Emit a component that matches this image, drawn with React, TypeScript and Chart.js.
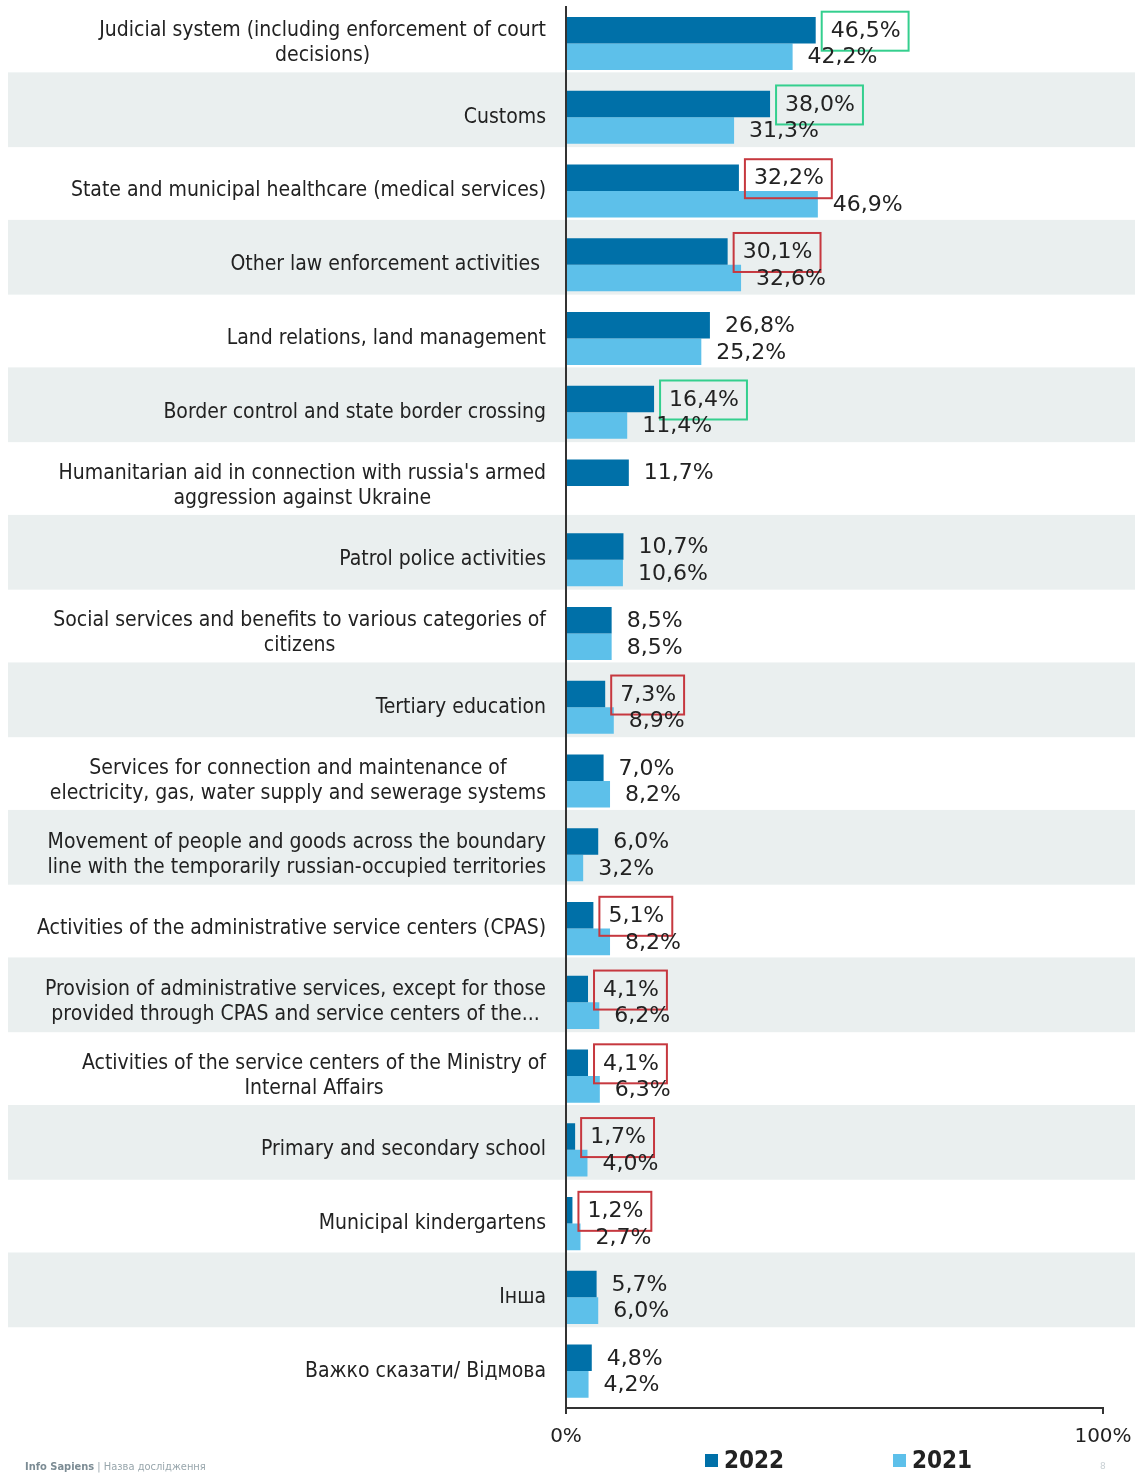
import React, { useEffect, useRef } from "react";
import { Chart, registerables } from "chart.js";

Chart.register(...registerables);

const categories: string[][] = [
  ["Judicial system (including enforcement of court", "decisions)"],
  ["Customs"],
  ["State and municipal healthcare (medical services)"],
  ["Other law enforcement activities "],
  ["Land relations, land management"],
  ["Border control and state border crossing"],
  ["Humanitarian aid in connection with russia's armed", "aggression against Ukraine"],
  ["Patrol police activities"],
  ["Social services and benefits to various categories of", "citizens"],
  ["Tertiary education"],
  ["Services for connection and maintenance of", "electricity, gas, water supply and sewerage systems"],
  ["Movement of people and goods across the boundary", "line with the temporarily russian-occupied territories"],
  ["Activities of the administrative service centers (CPAS)"],
  ["Provision of administrative services, except for those", "provided through CPAS and service centers of the..."],
  ["Activities of the service centers of the Ministry of", "Internal Affairs"],
  ["Primary and secondary school"],
  ["Municipal kindergartens"],
  ["Інша"],
  ["Важко сказати/ Відмова"],
];

const values2022: number[] = [46.5, 38.0, 32.2, 30.1, 26.8, 16.4, 11.7, 10.7, 8.5, 7.3, 7.0, 6.0, 5.1, 4.1, 4.1, 1.7, 1.2, 5.7, 4.8];
const values2021: (number | null)[] = [42.2, 31.3, 46.9, 32.6, 25.2, 11.4, null, 10.6, 8.5, 8.9, 8.2, 3.2, 8.2, 6.2, 6.3, 4.0, 2.7, 6.0, 4.2];

// highlight frames around 2022 values: "up" = green, "down" = red
const highlight2022: (string | null)[] = ["up", "up", "down", "down", null, "up", null, null, null, "down", null, null, "down", "down", "down", "down", "down", null, null];

const seriesLabels = ["2022", "2021"];
const xTickValues = [0, 100];

const COLOR_2022 = "#0070A8";
const COLOR_2021 = "#5DC0EA";
const BAND = "#EAEFEF";
const TEXT = "#222222";
const GREEN = "#34CF8E";
const RED = "#C6383F";

const fmt = (v: number) => v.toFixed(1).replace(".", ",") + "%";

const bandsPlugin = {
  id: "bands",
  beforeDraw(chart: any) {
    const ctx = chart.ctx;
    const y = chart.scales.y;
    const step = y.getPixelForValue(1) - y.getPixelForValue(0);
    ctx.save();
    ctx.fillStyle = "#ffffff";
    ctx.fillRect(0, 0, chart.width, chart.height);
    ctx.fillStyle = BAND;
    categories.forEach((_, i) => {
      if (i % 2 === 1) {
        const c = y.getPixelForValue(i);
        ctx.fillRect(8, c - step / 2 - 8, 1127, step + 1);
      }
    });
    ctx.restore();
  },
};

const labelsPlugin = {
  id: "customLabels",
  afterDatasetsDraw(chart: any) {
    const ctx = chart.ctx;
    ctx.save();
    ctx.font = "22px 'DejaVu Sans'";
    ctx.textBaseline = "middle";
    ctx.textAlign = "left";
    chart.data.datasets.forEach((ds: any, di: number) => {
      const meta = chart.getDatasetMeta(di);
      meta.data.forEach((bar: any, i: number) => {
        const v = ds.data[i];
        if (v === null || v === undefined) return;
        const text = fmt(v);
        const tx = bar.x + 15;
        const ty = bar.y + 1;
        ctx.fillStyle = TEXT;
        ctx.fillText(text, tx, ty);
        if (di === 0 && highlight2022[i]) {
          const w = ctx.measureText(text).width;
          ctx.strokeStyle = highlight2022[i] === "up" ? GREEN : RED;
          ctx.lineWidth = 2;
          ctx.strokeRect(tx - 9, ty - 19.5, w + 17, 39);
        }
      });
    });
    ctx.restore();
  },
  afterDraw(chart: any) {
    const ctx = chart.ctx;
    const y = chart.scales.y;
    ctx.save();
    // category labels: block right-aligned, lines centered within block
    ctx.font = "21px 'DejaVu Sans Condensed'";
    ctx.fillStyle = TEXT;
    ctx.textBaseline = "middle";
    ctx.textAlign = "center";
    const right = 546;
    const lh = 25;
    categories.forEach((lines, i) => {
      const c = y.getPixelForValue(i);
      const bw = Math.max(...lines.map((l) => ctx.measureText(l).width));
      const cx = right - bw / 2;
      const y0 = c - ((lines.length - 1) * lh) / 2;
      lines.forEach((l, k) => ctx.fillText(l, cx, y0 + k * lh));
    });

    // legend
    const legendX = [705, 893];
    const legendY = 1461;
    ctx.textAlign = "left";
    ctx.font = "bold 24px 'DejaVu Sans Condensed'";
    chart.data.datasets.forEach((ds: any, di: number) => {
      ctx.fillStyle = ds.backgroundColor;
      ctx.fillRect(legendX[di], legendY - 7, 13, 13);
      ctx.fillStyle = TEXT;
      ctx.fillText(ds.label, legendX[di] + 19, legendY + 1);
    });

    // footer
    ctx.font = "bold 11px 'DejaVu Sans Condensed'";
    ctx.fillStyle = "#7C8C94";
    ctx.fillText("Info Sapiens", 25, 1467);
    const w1 = ctx.measureText("Info Sapiens").width;
    ctx.font = "11px 'DejaVu Sans Condensed'";
    ctx.fillStyle = "#98A6AC";
    ctx.fillText(" | Назва дослідження", 25 + w1, 1467);
    ctx.font = "9px 'DejaVu Sans'";
    ctx.fillStyle = "#C8D0D4";
    ctx.fillText("8", 1100, 1467);
    ctx.restore();
  },
};

export default function App() {
  const ref = useRef<HTMLCanvasElement | null>(null);

  useEffect(() => {
    document.body.style.margin = "0";
    const canvas = ref.current;
    if (!canvas) return;
    const chart = new Chart(canvas, {
      type: "bar",
      data: {
        labels: categories.map((c) => c.join(" ")),
        datasets: [
          {
            label: seriesLabels[0],
            data: values2022,
            backgroundColor: COLOR_2022,
            categoryPercentage: 0.72,
            barPercentage: 1.0,
          },
          {
            label: seriesLabels[1],
            data: values2021 as any,
            backgroundColor: COLOR_2021,
            categoryPercentage: 0.72,
            barPercentage: 1.0,
          },
        ],
      },
      options: {
        indexAxis: "y",
        responsive: false,
        animation: false,
        devicePixelRatio: 1,
        layout: { padding: { left: 0, right: 36, top: 6.6, bottom: 0 } },
        plugins: {
          legend: { display: false },
          tooltip: { enabled: false },
        },
        scales: {
          x: {
            type: "linear",
            position: "bottom",
            min: 0,
            max: 100,
            afterBuildTicks: (s: any) => {
              s.ticks = xTickValues.map((v) => ({ value: v }));
            },
            afterFit: (s: any) => {
              s.height = 66;
              s.paddingLeft = 0;
              s.paddingRight = 0;
            },
            grid: {
              drawOnChartArea: false,
              drawTicks: true,
              tickLength: 6,
              color: "#333333",
              lineWidth: 2,
            },
            border: { display: true, color: "#333333", width: 2 },
            ticks: {
              padding: 11,
              color: TEXT,
              font: { family: "'DejaVu Sans'", size: 20 },
              callback: (v: any) => v + "%",
            },
          },
          y: {
            type: "category",
            position: "left",
            afterFit: (s: any) => {
              s.width = 566;
              s.paddingTop = 0;
              s.paddingBottom = 0;
            },
            grid: { display: false, drawTicks: false },
            border: { display: true, color: "#333333", width: 2 },
            ticks: { display: false },
          },
        },
      },
      plugins: [bandsPlugin, labelsPlugin],
    });
    return () => chart.destroy();
  }, []);

  return <canvas ref={ref} width={1139} height={1474} style={{ display: "block" }} />;
}
